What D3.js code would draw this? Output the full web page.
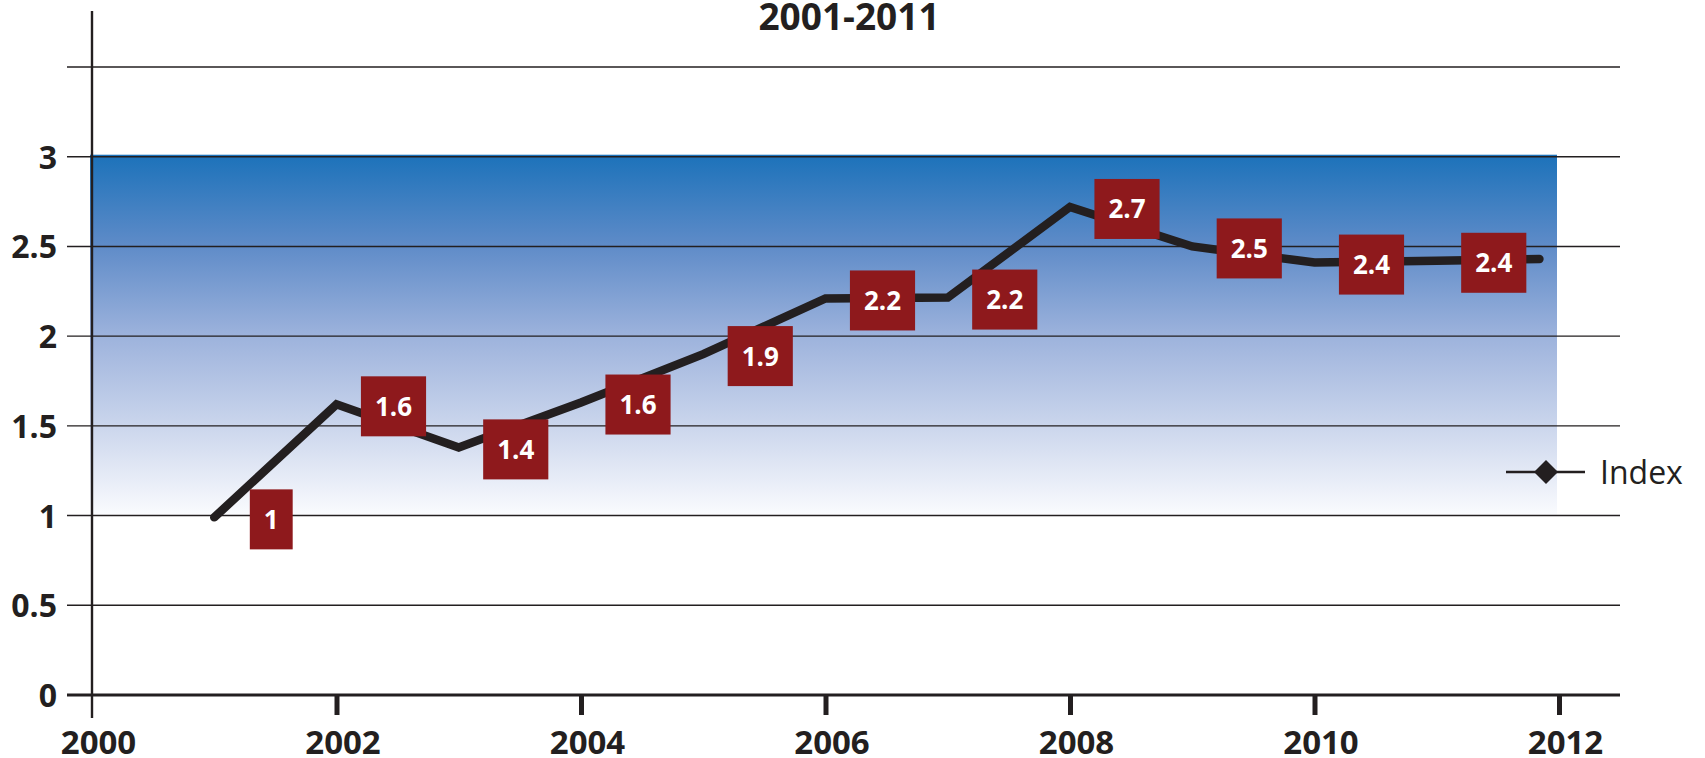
<!DOCTYPE html>
<html>
<head>
<meta charset="utf-8">
<script src="https://cdn.jsdelivr.net/npm/d3@7"></script>
<style>
  html, body { margin: 0; padding: 0; background: #ffffff; }
  svg { display: block; }
  text { font-family: "Open Sans", "DejaVu Sans", sans-serif; fill: #231f20; }
</style>
</head>
<body>
<svg id="chart" width="1705" height="758"></svg>
<script>
// ---- data ----
const title = "2001-2011";
const years = [2001, 2002, 2003, 2004, 2005, 2006, 2007, 2008, 2009, 2010, 2011];
const values = [0.99, 1.62, 1.38, 1.63, 1.9, 2.21, 2.215, 2.72, 2.5, 2.41, 2.42];
const valueLabels = ["1", "1.6", "1.4", "1.6", "1.9", "2.2", "2.2", "2.7", "2.5", "2.4", "2.4"];
const tailYear = 2011.84;     // line continues slightly past the last labelled point
const tailValue = 2.43;
const seriesName = "Index";
const xTicks = [2000, 2002, 2004, 2006, 2008, 2010, 2012];
const yTicks = [0, 0.5, 1, 1.5, 2, 2.5, 3];
const gridValues = [0.5, 1, 1.5, 2, 2.5, 3, 3.5];
const bandRange = [1, 3];     // shaded gradient band (value range)

// ---- layout ----
const svg = d3.select("#chart");
const ink = "#231f20";
const x = d3.scaleLinear().domain([2000, 2012]).range([92, 1559]);
const y = d3.scaleLinear().domain([0, 3.5]).range([695, 67]);
const gridX0 = 67, gridX1 = 1620;

// gradient
const defs = svg.append("defs");
const grad = defs.append("linearGradient").attr("id", "band")
  .attr("x1", 0).attr("y1", 0).attr("x2", 0).attr("y2", 1);
[[0, "#1c72ba"], [0.25, "#5e8bc8"], [0.5, "#9cb2dc"], [0.75, "#cad5ec"], [1, "#fafbfe"]]
  .forEach(([o, c]) => grad.append("stop").attr("offset", o).attr("stop-color", c));

svg.append("rect")
  .attr("x", x(2000) - 2)
  .attr("y", y(bandRange[1]) - 2)
  .attr("width", x(2012) - x(2000))
  .attr("height", y(bandRange[0]) - y(bandRange[1]) + 1)
  .attr("fill", "url(#band)");

// gridlines
svg.append("g").selectAll("line").data(gridValues).join("line")
  .attr("x1", gridX0).attr("x2", gridX1)
  .attr("y1", d => y(d)).attr("y2", d => y(d))
  .attr("stroke", ink).attr("stroke-width", 1.4);

// baseline
svg.append("line")
  .attr("x1", gridX0).attr("x2", gridX1)
  .attr("y1", y(0)).attr("y2", y(0))
  .attr("stroke", ink).attr("stroke-width", 2.8);

// y axis vertical line
svg.append("line")
  .attr("x1", x(2000)).attr("x2", x(2000))
  .attr("y1", 11).attr("y2", 718)
  .attr("stroke", ink).attr("stroke-width", 2.4);

// x axis ticks + labels
const xAxis = d3.axisBottom(x).tickValues(xTicks).tickFormat(d3.format("d"))
  .tickSize(20).tickPadding(20);
const gx = svg.append("g").attr("transform", `translate(0,${y(0)})`).call(xAxis);
gx.select(".domain").remove();
gx.selectAll(".tick line").attr("stroke", ink).attr("stroke-width", 5)
  .filter(d => d === 2000).remove();
gx.selectAll(".tick text")
  .attr("y", 0).attr("dy", 0)
  .attr("transform", "translate(6,59)")
  .attr("font-size", 33).attr("font-weight", 700)
  .attr("font-family", "'Open Sans', sans-serif")
  .attr("fill", ink);

// y axis labels
const yAxis = d3.axisLeft(y).tickValues(yTicks).tickFormat(d3.format("")).tickSize(0).tickPadding(0);
const gy = svg.append("g").attr("transform", `translate(57,0)`).call(yAxis);
gy.select(".domain").remove();
gy.selectAll(".tick text")
  .attr("x", 0).attr("dy", 0).attr("y", 11.5)
  .attr("font-size", 32).attr("font-weight", 700)
  .attr("font-family", "'Open Sans', sans-serif")
  .attr("fill", ink);

// line
const pts = years.map((yr, i) => ({ year: yr, value: values[i], label: valueLabels[i] }));
const linePts = pts.concat([{ year: tailYear, value: tailValue }]);
const line = d3.line().x(d => x(d.year)).y(d => y(d.value));
svg.append("path")
  .datum(linePts)
  .attr("d", line)
  .attr("fill", "none")
  .attr("stroke", ink)
  .attr("stroke-width", 8.5)
  .attr("stroke-linecap", "round")
  .attr("stroke-linejoin", "miter");

// value labels
const lg = svg.append("g").selectAll("g").data(pts).join("g")
  .attr("transform", d => `translate(${x(d.year) + 57},${y(d.value) + 2})`);
lg.append("text")
  .text(d => d.label)
  .attr("text-anchor", "middle")
  .attr("y", 9.5)
  .attr("font-size", 26).attr("font-weight", 700)
  .style("fill", "#ffffff")
  .each(function () {
    const w = this.getComputedTextLength();
    d3.select(this.parentNode).insert("rect", "text")
      .attr("x", -w / 2 - 14).attr("y", -30)
      .attr("width", w + 28).attr("height", 60)
      .attr("fill", "#8e191c");
  });

// legend
const leg = svg.append("g").attr("transform", "translate(0,472)");
leg.append("line").attr("x1", 1506).attr("x2", 1585).attr("y1", 0).attr("y2", 0)
  .attr("stroke", ink).attr("stroke-width", 2.4);
leg.append("path").attr("d", "M1546,-12 L1558,0 L1546,12 L1534,0 Z").attr("fill", ink);
leg.append("text").attr("x", 1600).attr("y", 11.5)
  .attr("font-size", 32).attr("font-weight", 400).text(seriesName);

// title
svg.append("text").attr("x", 849).attr("y", 30)
  .attr("text-anchor", "middle")
  .attr("font-size", 37).attr("font-weight", 700)
  .text(title);
</script>
</body>
</html>
